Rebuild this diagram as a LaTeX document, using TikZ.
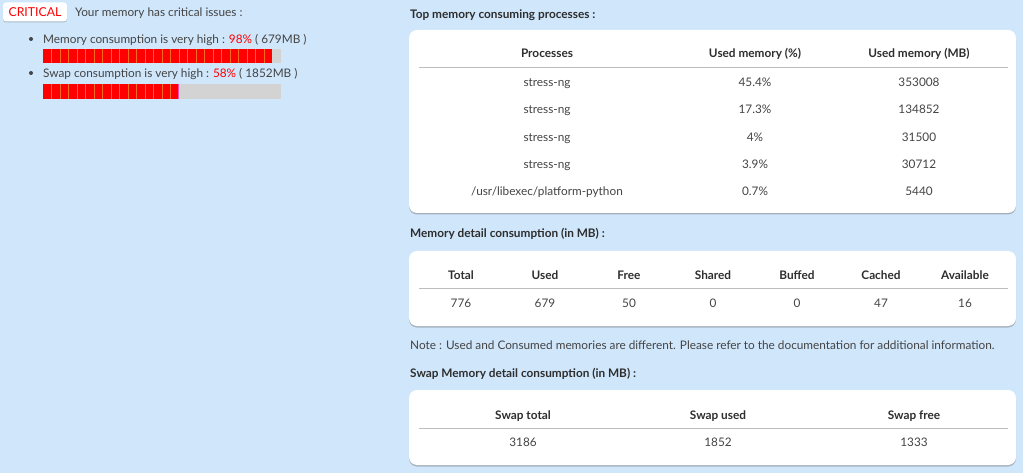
\documentclass[tikz,border=0pt]{standalone}
\usepackage{fontspec}
\setmainfont{Lato}
\usetikzlibrary{shadows}
\definecolor{bg}{HTML}{CFE6FB}
\definecolor{txt}{HTML}{444444}
\definecolor{hd}{HTML}{2E2E2E}
\definecolor{bargray}{HTML}{D3D3D3}
\definecolor{crit}{HTML}{FF0000}
\definecolor{stripe}{HTML}{F26A1B}
\definecolor{rulec}{HTML}{BDBDBD}
\begin{document}
\begin{tikzpicture}[x=1pt,y=-1pt,
  tx/.style={font=\fontsize{11.8}{14}\selectfont, text=txt, inner sep=0pt, text height=8.6pt, text depth=0pt},
  hdr/.style={font=\fontsize{11.8}{14}\selectfont\bfseries, text=hd, inner sep=0pt, text height=8.6pt, text depth=0pt},
  ttl/.style={font=\fontsize{11.8}{14}\selectfont\bfseries, text=hd, inner sep=0pt, anchor=west, text height=8.6pt, text depth=0pt},
  card/.style={fill=white, rounded corners=8pt, drop shadow={shadow xshift=0pt,shadow yshift=-1.5pt,opacity=0.45,fill=black!55}},
  sep/.style={draw=rulec, line width=1pt},
  dot/.style={circle, fill=txt, inner sep=0pt, minimum size=4pt}
]
\fill[bg] (0,0) rectangle (1023,473);
\useasboundingbox (0,0) rectangle (1023,473);

% ---- left part ----
\node[fill=white, rounded corners=3pt, minimum width=64pt, minimum height=19pt, inner sep=0pt,
  drop shadow={shadow xshift=0pt,shadow yshift=-1pt,opacity=0.4,fill=black!55},
  font=\fontsize{12.3}{14}\selectfont, text=crit, text height=8.8pt, text depth=0pt] (badge) at (35,12) {CRITICAL};
\node[tx, anchor=west] (issues) at (75,12) {Your memory has critical issues :};

\node[dot] (b1) at (31,39) {};
\node[tx, anchor=west] (m1) at (43,39) {Memory consumption is very high : \textcolor{crit}{98\%} ( 679MB )};
\fill[bargray] (43,49.5) rectangle (281,63.5);
\fill[crit] (43,49.5) rectangle (272,63.5);
\foreach \i in {1,...,26} {\draw[stripe, line width=0.6pt] (43+\i*8.5,49.5) -- (43+\i*8.5,63.5);}

\node[dot] (b2) at (31,73) {};
\node[tx, anchor=west] (m2) at (43,73) {Swap consumption is very high : \textcolor{crit}{58\%} ( 1852MB )};
\fill[bargray] (43,84) rectangle (281,99);
\fill[crit] (43,84) rectangle (178,99);
\foreach \i in {1,...,15} {\draw[stripe, line width=0.6pt] (43+\i*8.5,84) -- (43+\i*8.5,99);}
\draw[magenta!70, line width=0.8pt] (178,84) -- (178,99);

% ---- top processes ----
\node[ttl] (t1) at (410,14) {Top memory consuming processes :};
\fill[card] (409,30) rectangle (1016,213);
\node[hdr] (h11) at (547,53) {Processes};
\node[hdr] (h12) at (755,53) {Used memory (\%)};
\node[hdr] (h13) at (919,53) {Used memory (MB)};
\coordinate (l1a) at (419,67.5);
\coordinate (l1b) at (1008,67.5);
\draw[sep] (l1a) -- (l1b);
\node[tx] (r1a) at (547,82) {stress-ng};
\node[tx] (r1b) at (755,82) {45.4\%};
\node[tx] (r1c) at (919,82) {353008};
\node[tx] (r2a) at (547,109) {stress-ng};
\node[tx] (r2b) at (755,109) {17.3\%};
\node[tx] (r2c) at (919,109) {134852};
\node[tx] (r3a) at (547,137) {stress-ng};
\node[tx] (r3b) at (755,137) {4\%};
\node[tx] (r3c) at (919,137) {31500};
\node[tx] (r4a) at (547,164) {stress-ng};
\node[tx] (r4b) at (755,164) {3.9\%};
\node[tx] (r4c) at (919,164) {30712};
\node[tx] (r5a) at (547,191) {/usr/libexec/platform-python};
\node[tx] (r5b) at (755,191) {0.7\%};
\node[tx] (r5c) at (919,191) {5440};

% ---- memory detail ----
\node[ttl] (t2) at (410,233) {Memory detail consumption (in MB) :};
\fill[card] (409,251) rectangle (1016,326);
\foreach \x/\h/\v [count=\k] in {461/Total/776, 545/Used/679, 629/Free/50, 713/Shared/0, 797/Buffed/0, 881/Cached/47, 965/Available/16} {
  \node[hdr] (mh\k) at (\x,275) {\h};
  \node[tx] (mv\k) at (\x,303) {\v};
}
\coordinate (l2a) at (419,288.5);
\coordinate (l2b) at (1008,288.5);
\draw[sep] (l2a) -- (l2b);

\node[tx, anchor=west] (note) at (410,345) {Note : Used and Consumed memories are different. Please refer to the documentation for additional information.};

% ---- swap detail ----
\node[ttl] (t3) at (410,373) {Swap Memory detail consumption (in MB) :};
\fill[card] (409,390) rectangle (1016,465);
\foreach \x/\h/\v [count=\k] in {523/Swap total/3186, 718/Swap used/1852, 914/Swap free/1333} {
  \node[hdr] (sh\k) at (\x,415) {\h};
  \node[tx] (sv\k) at (\x,442) {\v};
}
\coordinate (l3a) at (419,428.5);
\coordinate (l3b) at (1008,428.5);
\draw[sep] (l3a) -- (l3b);
\end{tikzpicture}
\end{document}
